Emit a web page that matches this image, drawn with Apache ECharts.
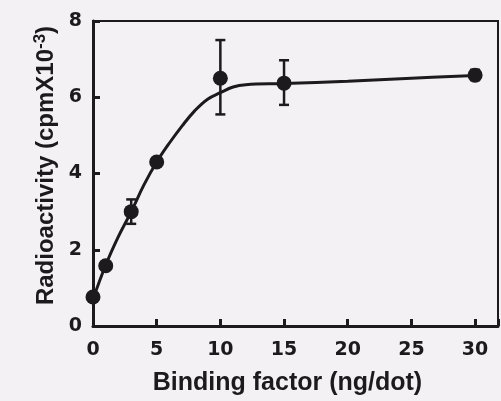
<!DOCTYPE html>
<html lang="en">
<head>
    <meta charset="UTF-8">
    <title>Binding factor</title>
    <script src="https://cdn.jsdelivr.net/npm/echarts@6/dist/echarts.min.js"></script>
    <style>
        body { margin: 0; background: #f4f1f4; }
        #main { width: 501px; height: 401px; }
    </style>
</head>
<body>
    <div id="main"></div>
    <script>
        // measured points
        var doses = [0, 1, 3, 5, 10, 15, 30];
        var means = [0.76, 1.58, 3.0, 4.3, 6.5, 6.37, 6.58];
        var errLow = [0.76, 1.58, 2.68, 4.3, 5.55, 5.8, 6.45];
        var errHigh = [0.76, 1.58, 3.32, 4.3, 7.5, 6.97, 6.72];
        // fitted curve
        var fitX = [0, 1, 2, 3, 4, 5, 6, 7, 8, 9, 10, 11, 12, 15, 20, 25, 30];
        var fitY = [0.7, 1.6, 2.35, 3.0, 3.7, 4.3, 4.8, 5.25, 5.65, 5.95, 6.12, 6.27, 6.33, 6.36, 6.42, 6.5, 6.57];
        var xTicks = [0, 5, 10, 15, 20, 25, 30];

        var pts = doses.map(function (d, i) { return [d, means[i]]; });
        var errs = doses.map(function (d, i) { return [d, errLow[i], errHigh[i]]; });
        var fit = fitX.map(function (d, i) { return [d, fitY[i]]; });

        var ink = '#1c1a1c';
        var font = 'Liberation Sans, Arial, sans-serif';
        var tickFont = 'DejaVu Sans, sans-serif';

        var myChart = echarts.init(document.getElementById('main'));
        var option = {
            backgroundColor: '#f4f1f4',
            animation: false,
            grid: {
                left: 93, right: 1, top: 21, bottom: 74,
                show: true, borderColor: ink, borderWidth: 2,
                backgroundColor: 'transparent'
            },
            xAxis: {
                type: 'value', min: 0, max: 31.8, interval: 5,
                name: 'Binding factor (ng/dot)',
                nameLocation: 'middle', nameGap: 45,
                nameTextStyle: { color: ink, fontSize: 25, fontWeight: 'bold', fontFamily: font, padding: [0, 16, 0, 0] },
                axisLine: { lineStyle: { color: ink, width: 3 } },
                axisTick: { inside: true, length: 7, lineStyle: { color: ink, width: 3 } },
                axisLabel: {
                    color: ink, fontSize: 19, fontWeight: 'bold', fontFamily: tickFont, margin: 15,
                    formatter: function (v) { return xTicks.indexOf(v) >= 0 ? v : ''; }
                },
                splitLine: { show: false }
            },
            yAxis: {
                type: 'value', min: 0, max: 8, interval: 2,
                name: 'Radioactivity (cpmX10{s|-3})',
                nameLocation: 'middle', nameGap: 32,
                nameTextStyle: {
                    color: ink, fontSize: 24, fontWeight: 'bold', fontFamily: font, padding: [0, 0, 0, 16],
                    rich: { s: { fontSize: 17, fontWeight: 'bold', fontFamily: font, color: ink, verticalAlign: 'top', padding: [0, 0, 12, 0] } }
                },
                axisLine: { lineStyle: { color: ink, width: 3 } },
                axisTick: { inside: true, length: 7, lineStyle: { color: ink, width: 3 } },
                axisLabel: { color: ink, fontSize: 19, fontWeight: 'bold', fontFamily: tickFont, margin: 11 },
                splitLine: { show: false }
            },
            series: [{
                type: 'line',
                data: fit,
                smooth: 0.4,
                showSymbol: false,
                lineStyle: { color: ink, width: 3 },
                z: 2
            }, {
                type: 'custom',
                data: errs,
                z: 3,
                renderItem: function (params, api) {
                    var x = api.value(0);
                    var lo = api.coord([x, api.value(1)]);
                    var hi = api.coord([x, api.value(2)]);
                    if (Math.abs(hi[1] - lo[1]) < 2) return;
                    var w = 5;
                    var st = { stroke: ink, lineWidth: 2.5 };
                    return {
                        type: 'group',
                        children: [
                            { type: 'line', shape: { x1: lo[0], y1: lo[1], x2: hi[0], y2: hi[1] }, style: st },
                            { type: 'line', shape: { x1: lo[0] - w, y1: lo[1], x2: lo[0] + w, y2: lo[1] }, style: st },
                            { type: 'line', shape: { x1: hi[0] - w, y1: hi[1], x2: hi[0] + w, y2: hi[1] }, style: st }
                        ]
                    };
                }
            }, {
                type: 'scatter',
                data: pts,
                symbol: 'circle',
                symbolSize: 15,
                itemStyle: { color: ink, opacity: 1 },
                z: 4
            }]
        };
        myChart.setOption(option);
    </script>
</body>
</html>
